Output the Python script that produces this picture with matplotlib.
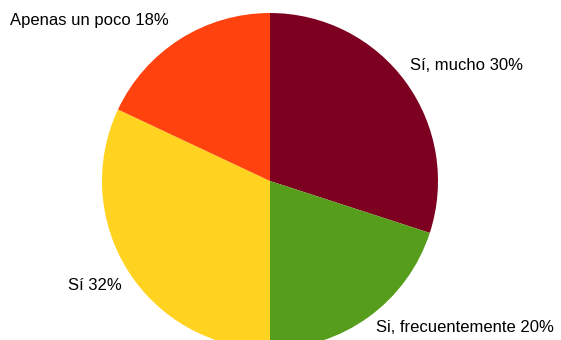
import matplotlib

matplotlib.use("Agg")

import matplotlib.pyplot as plt

labels = ["Sí, mucho", "Si, frecuentemente", "Sí", "Apenas un poco"]
values = [30, 20, 32, 18]
colors = ["#7e0021", "#579d1c", "#ffd320", "#ff420e"]

# label anchor points in pixel space (x, y from top), horizontal alignment
label_pos = [(410, 66, "left"), (376, 328, "left"), (122, 285, "right"), (10, 20, "left")]

W, H = 561, 340
fig = plt.figure(figsize=(W / 100, H / 100), dpi=100)
ax = fig.add_axes([0, 0, 1, 1])

ax.pie(
    values,
    colors=colors,
    startangle=90,
    counterclock=False,
    center=(270, H - 181),
    radius=168,
    frame=True,
    wedgeprops={"linewidth": 0},
)
ax.set_xlim(0, W)
ax.set_ylim(0, H)
ax.set_aspect("equal")
ax.axis("off")

for (lab, val), (x, y, ha) in zip(zip(labels, values), label_pos):
    ax.text(x, H - y, f"{lab} {val}%", ha=ha, va="center",
            fontsize=12, family="Liberation Sans", color="black")

fig.savefig("out.png", dpi=100, facecolor="white")
